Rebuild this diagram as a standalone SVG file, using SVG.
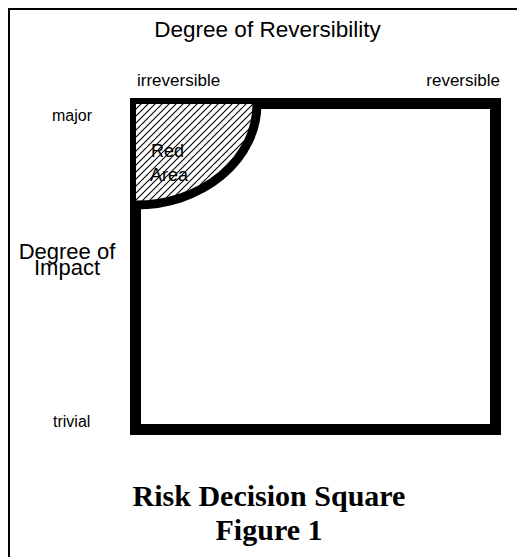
<svg xmlns="http://www.w3.org/2000/svg" width="517" height="557" viewBox="0 0 517 557">
<style>
.s{font-family:"Liberation Sans",Arial,sans-serif;fill:#000}
.t{font-family:"Liberation Serif","Times New Roman",serif;font-weight:bold;font-size:30px;fill:#000}
</style>
<defs>
<pattern id="hatch" width="7" height="7" patternUnits="userSpaceOnUse">
<rect width="7" height="7" fill="#fff"/>
<path d="M-1,1 L1,-1 M0,7 L7,0 M6,8 L8,6" stroke="#000" stroke-width="1.1"/>
</pattern>
</defs>
<rect width="517" height="557" fill="#fff"/>
<rect id="frame" x="9" y="9" width="520" height="560" fill="none" stroke="#000" stroke-width="2"/>
<g id="square">
<rect x="135.5" y="103.5" width="360" height="326" fill="#fff" stroke="#000" stroke-width="11"/>
</g>
<g id="red-area">
<path d="M136,104 L257,104 A121,101 0 0 1 136,205 Z" fill="url(#hatch)"/>
<path d="M257,104 A121,101 0 0 1 136,205" fill="none" stroke="#000" stroke-width="9"/>
<text class="s" x="151" y="157" font-size="18">Red</text>
<text class="s" x="150" y="181" font-size="18">Area</text>
</g>
<g id="labels">
<text class="s" x="267.5" y="37" font-size="22.5" text-anchor="middle">Degree of Reversibility</text>
<text class="s" x="137" y="86" font-size="17">irreversible</text>
<text class="s" x="500" y="86" font-size="17" text-anchor="end">reversible</text>
<text class="s" x="52" y="121" font-size="16">major</text>
<text class="s" x="53" y="427" font-size="16">trivial</text>
<text class="s" x="67" y="259" font-size="22" text-anchor="middle">Degree of</text>
<text class="s" x="67" y="275" font-size="22" text-anchor="middle">Impact</text>
</g>
<g id="title">
<text class="t" x="269" y="506" text-anchor="middle">Risk Decision Square</text>
<text class="t" x="269" y="540" text-anchor="middle">Figure 1</text>
</g>
<g id="connectors"/>
</svg>
